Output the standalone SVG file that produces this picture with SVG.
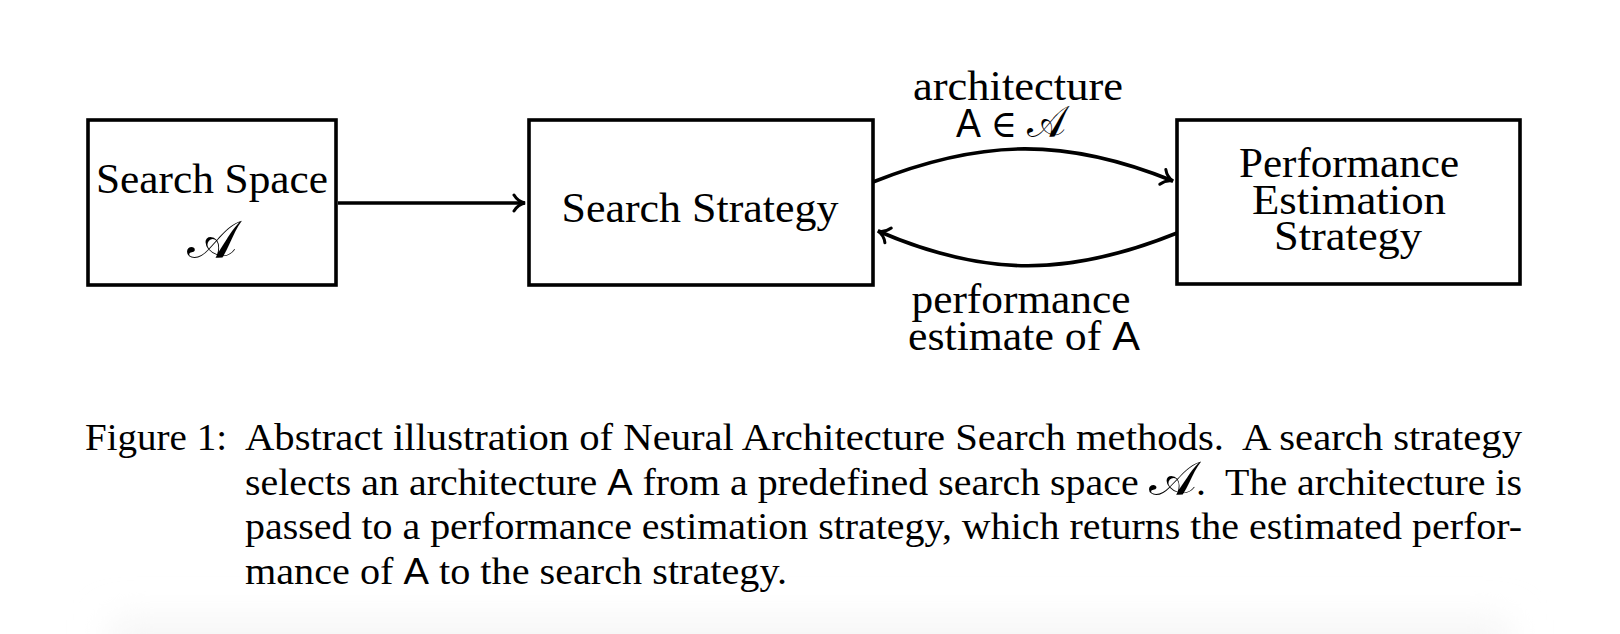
<svg xmlns="http://www.w3.org/2000/svg" width="1620" height="634" viewBox="0 0 1620 634">
<style>
.box{fill:#fff;stroke:#000;stroke-width:3.6}
.lbl{font-family:"Liberation Serif","Times New Roman",serif;font-size:42px;fill:#000;text-anchor:middle}
.cap{font-family:"Liberation Serif","Times New Roman",serif;font-size:38px;fill:#000}
.sf{font-family:"Liberation Sans",Arial,sans-serif;font-size:0.95em}
.cal{font-family:"DejaVu Serif","DejaVu Sans",serif;font-size:1.25em}
.cal2{font-family:"DejaVu Serif","DejaVu Sans",serif;font-size:1.05em}
.el{font-family:"DejaVu Serif","DejaVu Sans",serif;font-size:0.9em}
.conn{fill:none;stroke:#000;stroke-width:3.6}
</style>
<defs>
<marker id="arr" markerUnits="userSpaceOnUse" viewBox="-14 -10 16 20" refX="0" refY="0" markerWidth="16" markerHeight="20" orient="auto">
<path d="M-11,-8 C-8,-3 -3.5,-0.7 0,0 C-3.5,0.7 -8,3 -11,8" fill="none" stroke="#000" stroke-width="3" stroke-linecap="round"/>
</marker>
<filter id="blur" x="-10%" y="-100%" width="120%" height="300%"><feGaussianBlur stdDeviation="18"/></filter>
</defs>
<rect width="1620" height="634" fill="#fff"/>
<rect x="110" y="620" width="1400" height="60" fill="#f5f5f5" filter="url(#blur)"/>

<g id="connectors">
<path class="conn" d="M338,203 L525,203" marker-end="url(#arr)"/>
<path class="conn" d="M873,182 C983,138 1067,138 1173,181" marker-end="url(#arr)"/>
<path class="conn" d="M1177,233 C1068,277 984,277 878,231" marker-end="url(#arr)"/>
</g>

<g id="search-space">
<rect class="box" x="88" y="120" width="248" height="165"/>
<text class="lbl" x="212" y="193" textLength="232" lengthAdjust="spacingAndGlyphs">Search Space</text>
<text class="lbl" x="212" y="258"><tspan class="cal">𝒜</tspan></text>
</g>

<g id="search-strategy">
<rect class="box" x="529" y="120" width="344" height="165"/>
<text class="lbl" x="700" y="222" textLength="277" lengthAdjust="spacingAndGlyphs">Search Strategy</text>
</g>

<g id="performance-estimation">
<rect class="box" x="1177" y="120" width="343" height="164"/>
<text class="lbl" x="1349" y="177" textLength="220" lengthAdjust="spacingAndGlyphs">Performance</text>
<text class="lbl" x="1349" y="214" textLength="194" lengthAdjust="spacingAndGlyphs">Estimation</text>
<text class="lbl" x="1348" y="250" textLength="148" lengthAdjust="spacingAndGlyphs">Strategy</text>
</g>

<g id="edge-labels">
<text class="lbl" x="1018" y="100" textLength="210" lengthAdjust="spacingAndGlyphs">architecture</text>
<text class="lbl" x="1011" y="137" textLength="110" lengthAdjust="spacingAndGlyphs"><tspan class="sf">A</tspan> <tspan class="el">∈</tspan> <tspan class="cal2">𝒜</tspan></text>
<text class="lbl" x="1021" y="313" textLength="219" lengthAdjust="spacingAndGlyphs">performance</text>
<text class="lbl" x="1024" y="350" textLength="232" lengthAdjust="spacingAndGlyphs">estimate of <tspan class="sf">A</tspan></text>
</g>

<g id="caption">
<text class="cap" x="85" y="450" textLength="142" lengthAdjust="spacingAndGlyphs">Figure 1:</text>
<text class="cap" x="245" y="450" textLength="1277" lengthAdjust="spacingAndGlyphs">Abstract illustration of Neural Architecture Search methods.&#160; A search strategy</text>
<text class="cap" x="245" y="494.5" textLength="1277" lengthAdjust="spacingAndGlyphs">selects an architecture <tspan class="sf">A</tspan> from a predefined search space <tspan class="cal">𝒜</tspan>.&#160; The architecture is</text>
<text class="cap" x="245" y="539" textLength="1277" lengthAdjust="spacingAndGlyphs">passed to a performance estimation strategy, which returns the estimated perfor-</text>
<text class="cap" x="245" y="583.5" textLength="542" lengthAdjust="spacingAndGlyphs">mance of <tspan class="sf">A</tspan> to the search strategy.</text>
</g>
</svg>
